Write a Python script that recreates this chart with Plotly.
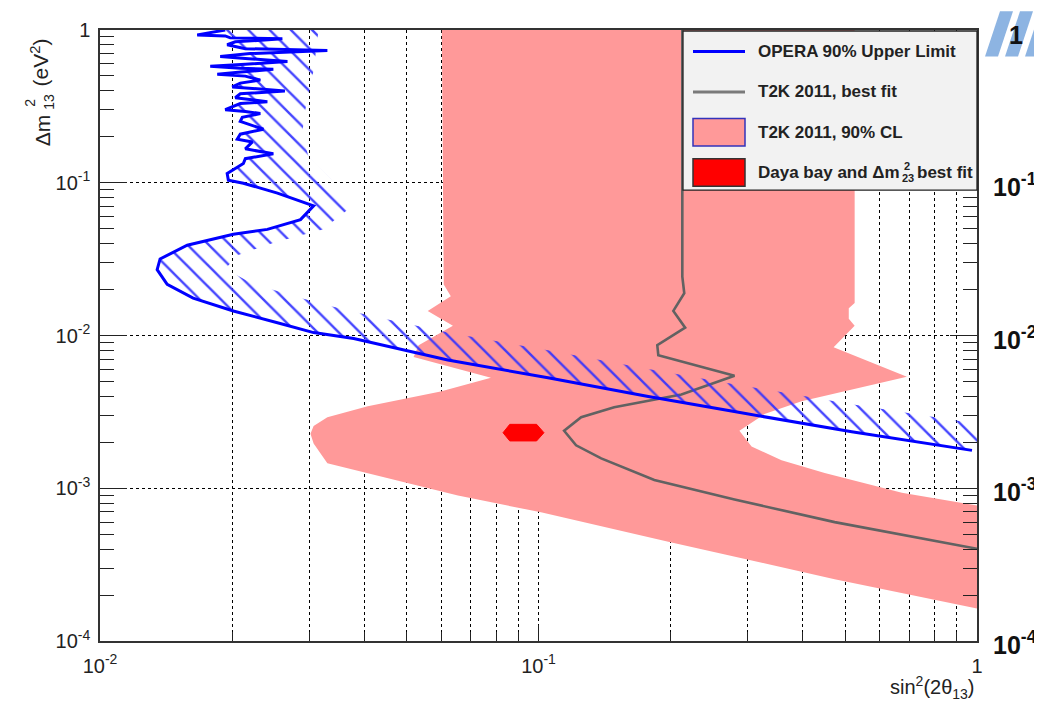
import math
import plotly.graph_objects as go

W, H = 1042, 707
PAGE_OFF = 8                      # default body margin of the html page
L, R, T, B = 100, 977, 19, 641    # plot frame in page pixels

# ---------------- data ----------------
# T2K 2011 90% CL allowed region (outline, sin^2(2theta13), dm2 eV^2)
t2k_cl_x = [0.0602, 0.526, 0.526, 0.510, 0.510, 0.526, 0.471, 0.692, 0.398, 0.3276,
            0.2872, 0.3061, 0.3583, 0.4494, 0.674, 1.0, 1.0, 0.4736, 0.1977, 0.1013,
            0.0655, 0.0330, 0.0307, 0.0302, 0.0307, 0.0330, 0.0408, 0.0598, 0.0779,
            0.0519, 0.0533, 0.0638, 0.0559, 0.0631, 0.0608, 0.0602]
t2k_cl_y = [1.0, 1.0, 0.0163, 0.0151, 0.01286, 0.01159, 0.00837, 0.00537, 0.00371, 0.00306,
            0.00238, 0.001876, 0.001525, 0.001259, 0.000935, 0.000771, 0.000163, 0.000254, 0.000446, 0.000696,
            0.000895, 0.001459, 0.001963, 0.002275, 0.00256, 0.00292, 0.00344, 0.00430, 0.00529,
            0.00722, 0.00863, 0.01159, 0.01448, 0.01808, 0.0216, 1.0]

# T2K 2011 best fit
t2k_bf_x = [0.2128, 0.2128, 0.2150, 0.2030, 0.2160, 0.1866, 0.1876, 0.2799, 0.2118, 0.1488,
            0.1251, 0.1144, 0.1218, 0.1390, 0.1837, 0.2799, 0.4736, 0.674, 1.0]
t2k_bf_y = [1.0, 0.0243, 0.0189, 0.01448, 0.01125, 0.00863, 0.00743, 0.00545, 0.00411, 0.00339,
            0.00292, 0.00238, 0.00191, 0.00157, 0.001134, 0.000844, 0.000600, 0.000495, 0.000402]

# OPERA 90% upper limit: jagged upper part (horizontal spikes) ...
opera_top_x = [0.0193, 0.01666, 0.0193, 0.01982, 0.02606, 0.02035, 0.0195, 0.02145, 0.0330, 0.0220,
               0.0188, 0.02145, 0.02676, 0.02145, 0.01784, 0.02089, 0.02485, 0.02067, 0.01851, 0.02145,
               0.02321, 0.02089, 0.02003, 0.0264, 0.02089, 0.02035, 0.02408, 0.02089, 0.0193, 0.02145,
               0.02321, 0.02111, 0.02089, 0.02359, 0.02089, 0.02056, 0.02226, 0.02145, 0.02485, 0.02145,
               0.02123, 0.0195, 0.01962, 0.02123]
opera_top_y = [1.0, 0.929, 0.915, 0.888, 0.875, 0.837, 0.801, 0.755, 0.733, 0.701,
               0.671, 0.651, 0.623, 0.596, 0.578, 0.561, 0.553, 0.529, 0.514, 0.499,
               0.470, 0.449, 0.424, 0.399, 0.382, 0.360, 0.339, 0.330, 0.301, 0.293,
               0.284, 0.268, 0.252, 0.224, 0.208, 0.193, 0.185, 0.1667, 0.1547, 0.1437,
               0.1335, 0.1151, 0.1038, 0.0993]
# ... and smooth lower part
opera_low_x = [0.02123, 0.02539, 0.0307, 0.02866, 0.02408, 0.02014, 0.01581, 0.01371, 0.0135, 0.01423,
               0.01631, 0.02014, 0.02539, 0.0307, 0.0379, 0.0621, 0.1051, 0.178, 0.2754, 0.518, 0.974]
opera_low_y = [0.0993, 0.0856, 0.0706, 0.0574, 0.0495, 0.0460, 0.0390, 0.0317, 0.0270, 0.0216,
               0.01756, 0.01448, 0.01213, 0.01045, 0.00956, 0.00691, 0.00529, 0.00399, 0.00320, 0.00234, 0.00177]

# outer edge of the OPERA excluded (hatched) band
opera_edge_x = [0.0315, 0.0307, 0.0294, 0.0289, 0.0299, 0.0335, 0.0377, 0.0322, 0.0251, 0.02067,
                0.0193, 0.0220, 0.0272, 0.0335, 0.0414, 0.0621, 0.1051, 0.178, 0.2754, 0.518, 1.0]
opera_edge_y = [1.0, 0.545, 0.3013, 0.2082, 0.148, 0.1069, 0.0706, 0.0495, 0.0408, 0.0337,
                0.0274, 0.02225, 0.01835, 0.01559, 0.01345, 0.01045, 0.0080, 0.00604, 0.00484, 0.00355, 0.00264]

# Daya Bay + dm2_23 best fit
daya_x = [0.0830, 0.0860, 0.0990, 0.1029, 0.0990, 0.0860, 0.0830]
daya_y = [0.00231, 0.00262, 0.00262, 0.00231, 0.00204, 0.00204, 0.00231]

x_tick_vals = [0.01, 0.1, 1]
x_tick_text = ['10<sup>-2</sup>', '10<sup>-1</sup>', '1']
y_tick_vals = [1e-4, 1e-3, 1e-2, 1e-1, 1]
y_tick_text = ['10<sup>-4</sup>', '10<sup>-3</sup>', '10<sup>-2</sup>', '10<sup>-1</sup>', '1']
right_label_vals = [1e-1, 1e-2, 1e-3, 1e-4]
right_label_text = ['10<sup>-1</sup>', '10<sup>-2</sup>', '10<sup>-3</sup>', '10<sup>-4</sup>']

legend_labels = ['OPERA 90% Upper Limit', 'T2K 2011, best fit', 'T2K 2011, 90% CL']

PINK = '#ff9999'
BLUE = '#0000ff'
GRAY = '#626262'
FONT = 'Liberation Sans, Arial, sans-serif'

# ---------------- helpers (page pixels -> paper coords) ----------------
def px(xp):
    return (xp - L) / (R - L)

def py(yp):
    return (B - yp) / (B - T)

minor_x = [m * 10 ** e for e in (-2, -1) for m in range(2, 10)]
minor_y = [m * 10 ** e for e in (-4, -3, -2, -1) for m in range(2, 10)]

fig = go.Figure()

fig.add_trace(go.Scatter(x=t2k_cl_x, y=t2k_cl_y, mode='lines', fill='toself',
                         fillcolor=PINK, line=dict(width=0, color=PINK), hoverinfo='skip'))
fig.add_trace(go.Scatter(x=daya_x, y=daya_y, mode='lines', fill='toself',
                         fillcolor='#ff0000', line=dict(width=1, color='#ff0000'), hoverinfo='skip'))
fig.add_trace(go.Scatter(x=t2k_bf_x, y=t2k_bf_y, mode='lines',
                         line=dict(width=2.6, color=GRAY), hoverinfo='skip'))

opera_x = opera_top_x + opera_low_x[1:]
opera_y = opera_top_y + opera_low_y[1:]
hatch_x = opera_x + [1.0] + opera_edge_x[::-1]
hatch_y = opera_y + [opera_y[-1]] + opera_edge_y[::-1]
fig.add_trace(go.Scatter(x=hatch_x, y=hatch_y, mode='none', fill='toself',
                         fillcolor='rgba(0,0,0,0)',
                         fillpattern=dict(shape='\\', fgcolor='#3030ff', fgopacity=0.9,
                                          bgcolor='rgba(0,0,0,0)', size=15, solidity=0.16),
                         hoverinfo='skip'))
fig.add_trace(go.Scatter(x=opera_x, y=opera_y, mode='lines',
                         line=dict(width=3, color=BLUE, simplify=False), hoverinfo='skip'))

fig.update_layout(
    width=W - PAGE_OFF, height=H - PAGE_OFF,
    margin=dict(l=L - PAGE_OFF, r=W - R, t=T - PAGE_OFF, b=H - B),
    paper_bgcolor='white', plot_bgcolor='white',
    showlegend=False,
    font=dict(family=FONT, color='#222222'),
)

fig.update_xaxes(
    type='log', range=[-2, 0], tickvals=x_tick_vals, ticktext=x_tick_text,
    ticks='inside', ticklen=16, tickwidth=1.3, tickcolor='#222222',
    showline=True, linecolor='#333333', linewidth=1.5, mirror=True,
    showgrid=True, gridcolor='black', gridwidth=1, griddash='dot',
    minor=dict(tickvals=minor_x, ticks='inside', ticklen=9, tickwidth=1.2, tickcolor='#222222',
               showgrid=True, gridcolor='black', gridwidth=1, griddash='dot'),
    tickfont=dict(family=FONT, size=20, color='#222222'),
    zeroline=False, layer='below traces', ticklabelstandoff=6,
)
fig.update_yaxes(
    type='log', range=[-4, 0], tickvals=y_tick_vals, ticktext=y_tick_text,
    ticks='inside', ticklen=27, tickwidth=1.3, tickcolor='#222222',
    showline=True, linecolor='#333333', linewidth=1.5, mirror='ticks',
    showgrid=True, gridcolor='black', gridwidth=1, griddash='dot',
    minor=dict(tickvals=minor_y, ticks='inside', ticklen=14, tickwidth=1.2, tickcolor='#222222',
               showgrid=False),
    tickfont=dict(family=FONT, size=20, color='#222222'),
    zeroline=False, ticklabelstandoff=4,
)

shapes = []
# legend box
shapes.append(dict(type='rect', xref='paper', yref='paper', x0=px(683), x1=px(977), y0=py(182), y1=py(20),
                   fillcolor='#f2f2f2', line=dict(color='#222222', width=1.3), layer='above'))
shapes.append(dict(type='line', xref='paper', yref='paper', x0=px(693), x1=px(745), y0=py(41), y1=py(41),
                   line=dict(color=BLUE, width=3), layer='above'))
shapes.append(dict(type='line', xref='paper', yref='paper', x0=px(693), x1=px(745), y0=py(82), y1=py(82),
                   line=dict(color='#7a7a7a', width=3), layer='above'))
shapes.append(dict(type='rect', xref='paper', yref='paper', x0=px(693), x1=px(745), y0=py(137), y1=py(109),
                   fillcolor=PINK, line=dict(color='#3333bb', width=1.5), layer='above'))
shapes.append(dict(type='rect', xref='paper', yref='paper', x0=px(693), x1=px(745), y0=py(178), y1=py(150),
                   fillcolor='#ff0000', line=dict(color='#333333', width=1.5), layer='above'))
# slide decoration (light blue stripes, top right)
for i in range(3):
    x0 = 985 + 20 * i
    path = 'M {} {} L {} {} L {} {} L {} {} Z'.format(
        px(x0), py(46), px(x0 + 13), py(46), px(x0 + 28), py(0), px(x0 + 15), py(0))
    shapes.append(dict(type='path', xref='paper', yref='paper', path=path,
                       fillcolor='#8db4e2', line=dict(width=0), layer='above'))
fig.update_layout(shapes=shapes)

ann = []
legend_ys = [41, 82, 123]
for lab, yy in zip(legend_labels, legend_ys):
    ann.append(dict(xref='paper', yref='paper', x=px(756), y=py(yy), text='<b>' + lab + '</b>',
                    showarrow=False, xanchor='left', yanchor='middle',
                    font=dict(family=FONT, size=17, color='#222222')))
ann.append(dict(xref='paper', yref='paper', x=px(756), y=py(164), text='<b>Daya bay and \u0394m</b>',
                showarrow=False, xanchor='left', yanchor='middle',
                font=dict(family=FONT, size=17, color='#222222')))
ann.append(dict(xref='paper', yref='paper', x=px(907), y=py(157), text='<b>2</b>',
                showarrow=False, xanchor='center', yanchor='middle',
                font=dict(family=FONT, size=11, color='#222222')))
ann.append(dict(xref='paper', yref='paper', x=px(908), y=py(170), text='<b>23</b>',
                showarrow=False, xanchor='center', yanchor='middle',
                font=dict(family=FONT, size=11, color='#222222')))
ann.append(dict(xref='paper', yref='paper', x=px(975), y=py(164), text='<b>best fit</b>',
                showarrow=False, xanchor='right', yanchor='middle',
                font=dict(family=FONT, size=17, color='#222222')))

# axis titles
ann.append(dict(xref='paper', yref='paper', x=px(977), y=py(688),
                text='sin<sup>2</sup>(2\u03b8<sub>13</sub>)', showarrow=False,
                xanchor='right', yanchor='middle', font=dict(family=FONT, size=20, color='#222222')))
ann.append(dict(xref='paper', yref='paper', x=px(42), y=py(121), text='\u0394m', textangle=-90,
                showarrow=False, xanchor='center', yanchor='middle',
                font=dict(family=FONT, size=21, color='#222222')))
ann.append(dict(xref='paper', yref='paper', x=px(30), y=py(93), text='2', textangle=-90,
                showarrow=False, xanchor='center', yanchor='middle',
                font=dict(family=FONT, size=14, color='#222222')))
ann.append(dict(xref='paper', yref='paper', x=px(49), y=py(92), text='13', textangle=-90,
                showarrow=False, xanchor='center', yanchor='middle',
                font=dict(family=FONT, size=14, color='#222222')))
ann.append(dict(xref='paper', yref='paper', x=px(40), y=py(52), text='(eV<sup>2</sup>)', textangle=-90,
                showarrow=False, xanchor='center', yanchor='middle',
                font=dict(family=FONT, size=21, color='#222222')))

# bold labels of the slide to the right of the frame (log axis -> position in log10 units)
for v, t in zip(right_label_vals, right_label_text):
    ann.append(dict(xref='paper', yref='y', x=px(1015), y=math.log10(v), yshift=-2,
                    text='<b>' + t + '</b>', showarrow=False, xanchor='center', yanchor='middle',
                    font=dict(family=FONT, size=25, color='#111111')))
ann.append(dict(xref='paper', yref='paper', x=px(1016), y=py(24), text='<b>1</b>',
                showarrow=False, xanchor='center', yanchor='middle',
                font=dict(family=FONT, size=25, color='#111111')))
fig.update_layout(annotations=ann)

fig.write_html('out.html')
